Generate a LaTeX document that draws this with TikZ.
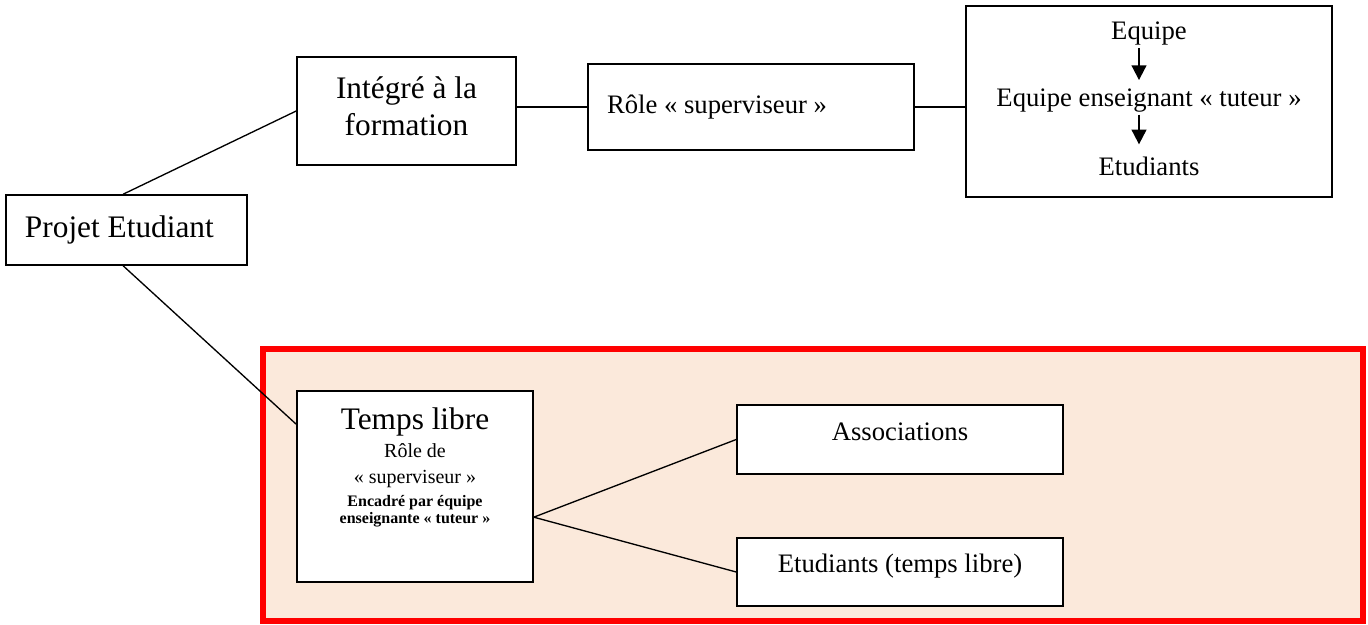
\documentclass[tikz,border=0pt]{standalone}
\usepackage{fontspec}
\setmainfont{Liberation Serif}
\usetikzlibrary{arrows.meta,calc}
\definecolor{peche}{HTML}{FBE9DB}
\begin{document}
\begin{tikzpicture}[x=0.75pt,y=-0.75pt,
    boite/.style={draw,line width=1.2pt,fill=white,inner sep=0pt},
    grand/.style={font=\fontsize{23.5}{28}\selectfont},
    moyen/.style={font=\fontsize{20}{24}\selectfont},
    lien/.style={line width=1pt},
    fleche/.style={line width=1.5pt,-{Triangle[length=11pt,width=11pt]}}]
            \useasboundingbox (0,0) rectangle (1368,625);

            % zone temps libre
            \draw [red,fill=peche,line width=4.5pt] (263,349) rectangle (1363,621);

            \node [boite,grand,text width=152.25pt,align=flush left,inner xsep=14.25pt,minimum height=52.5pt] (projet) at (126.5,230) {Projet Etudiant};
            \node [boite,grand,align=center,minimum width=164.25pt,minimum height=81pt] (integre) at (406.5,111) {Intégré à la\\formation\rule[-7.5pt]{0pt}{7.5pt}};
            \node [boite,moyen,text width=216pt,align=flush left,inner xsep=14.25pt,minimum height=64.5pt] (role) at (751,107) {Rôle « superviseur »};

            % equipe -> etudiants
            \node [boite,minimum width=274.5pt,minimum height=143.25pt] (equipe) at (1149,101.5) {};
            \node [moyen,inner sep=1.5pt] (e1) at (1149,34) {Equipe};
            \node [moyen,inner sep=1.5pt] (e2) at (1149,100.7) {Equipe enseignant « tuteur »};
            \node [moyen,inner sep=1.5pt] (e3) at (1149,166) {Etudiants};
            \draw [fleche] ([xshift=-7.5pt]e1.south) -- ([xshift=-7.5pt,yshift=5pt]e2.north);
            \draw [fleche] ([xshift=-7.5pt]e2.south) -- ([xshift=-7.5pt,yshift=7.5pt]e3.north);

            \node [boite,minimum width=177pt,minimum height=143.25pt] (temps) at (415,486.5) {};
            \node [text width=170pt,align=flush center,anchor=north,inner sep=0pt] (tempstxt) at ([yshift=-13pt]temps.north) {%
                \fontsize{23.5}{28}\selectfont Temps libre\par
                \fontsize{15}{21}\selectfont Rôle de\par
                \fontsize{15}{19.5}\selectfont « superviseur »\par
                \fontsize{12}{17}\bfseries Encadré par équipe\par
                \fontsize{12}{13}\selectfont enseignante « tuteur »\par};
            \node [boite,moyen,minimum width=244.5pt,text height=26.25pt,text depth=25.5pt] (assoc) at (900,439.5) {Associations};
            \node [boite,moyen,minimum width=244.5pt,text height=25.5pt,text depth=25.5pt] (etud) at (900,572) {Etudiants (temps libre)};

            \coordinate (noeud) at ([yshift=-23pt]temps.east);

            \draw [lien] ([xshift=-2.5pt]projet.north) -- (integre.west);
            \draw [lien] ([xshift=-2.5pt]projet.south) -- ([yshift=-25.5pt]temps.north west);
            \draw [lien] (role.west -| integre.east) -- (role.west);
            \draw [lien] (role.east) -- (role.east -| equipe.west);
            \draw [lien] (noeud) -- (assoc.west);
            \draw [lien] (noeud) -- (etud.west);
        \end{tikzpicture}
\end{document}
